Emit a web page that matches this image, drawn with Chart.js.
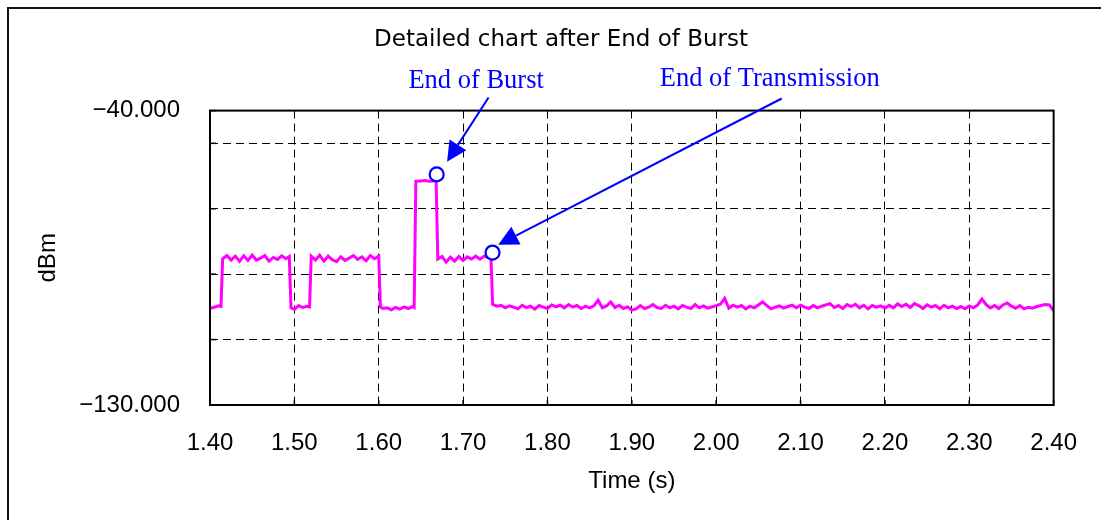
<!DOCTYPE html>
<html>
<head>
<meta charset="utf-8">
<title>Detailed chart after End of Burst</title>
<script src="https://cdn.jsdelivr.net/npm/chart.js@4.4.1/dist/chart.umd.min.js"></script>
<style>
  html, body { margin: 0; padding: 0; background: #fff; overflow: hidden; }
  #wrap { position: relative; width: 1101px; height: 520px; overflow: hidden; }
  #frame { position: absolute; left: 7px; top: 7px; width: 1200px; height: 600px;
           border-left: 2px solid #111; border-top: 2px solid #111; pointer-events: none; }
</style>
</head>
<body>
<div id="wrap">
  <canvas id="chart" width="1101" height="520"></canvas>
  <div id="frame"></div>
</div>
<script>
// measured trace (time in s, level in dBm)
const timeS = [
  1.400, 1.405, 1.410, 1.413, 1.415, 1.420, 1.425, 1.430, 1.435, 1.440,
  1.445, 1.450, 1.455, 1.460, 1.465, 1.470, 1.475, 1.480, 1.485, 1.490,
  1.494, 1.496, 1.500, 1.505, 1.510, 1.515, 1.518, 1.520, 1.525, 1.530,
  1.535, 1.540, 1.545, 1.550, 1.555, 1.560, 1.565, 1.570, 1.575, 1.580,
  1.585, 1.590, 1.595, 1.600, 1.602, 1.605, 1.610, 1.615, 1.620, 1.625,
  1.630, 1.635, 1.640, 1.642, 1.644, 1.650, 1.655, 1.660, 1.665, 1.668,
  1.670, 1.675, 1.680, 1.685, 1.690, 1.695, 1.700, 1.705, 1.710, 1.715,
  1.720, 1.725, 1.730, 1.733, 1.735, 1.740, 1.745, 1.750, 1.755, 1.760,
  1.765, 1.770, 1.775, 1.780, 1.785, 1.790, 1.795, 1.800, 1.805, 1.810,
  1.815, 1.820, 1.825, 1.830, 1.835, 1.840, 1.845, 1.850, 1.855, 1.860,
  1.865, 1.870, 1.875, 1.880, 1.885, 1.890, 1.895, 1.900, 1.905, 1.910,
  1.915, 1.920, 1.925, 1.930, 1.935, 1.940, 1.945, 1.950, 1.955, 1.960,
  1.965, 1.970, 1.975, 1.980, 1.985, 1.990, 1.995, 2.000, 2.005, 2.010,
  2.015, 2.020, 2.025, 2.030, 2.035, 2.040, 2.045, 2.050, 2.055, 2.060,
  2.065, 2.070, 2.075, 2.080, 2.085, 2.090, 2.095, 2.100, 2.105, 2.110,
  2.115, 2.120, 2.125, 2.130, 2.135, 2.140, 2.145, 2.150, 2.155, 2.160,
  2.165, 2.170, 2.175, 2.180, 2.185, 2.190, 2.195, 2.200, 2.205, 2.210,
  2.215, 2.220, 2.225, 2.230, 2.235, 2.240, 2.245, 2.250, 2.255, 2.260,
  2.265, 2.270, 2.275, 2.280, 2.285, 2.290, 2.295, 2.300, 2.305, 2.310,
  2.315, 2.320, 2.325, 2.330, 2.335, 2.340, 2.345, 2.350, 2.355, 2.360,
  2.365, 2.370, 2.375, 2.380, 2.385, 2.390, 2.395, 2.400
];
const levelDbm = [
  -100.4, -100.1, -99.7, -99.9, -85.3, -84.3, -85.7, -84.5, -86.1, -84.4,
  -85.8, -84.2, -85.7, -85.1, -84.3, -86.0, -84.9, -85.5, -84.4, -85.3,
  -84.6, -100.3, -100.8, -99.6, -100.2, -99.8, -100.0, -84.5, -85.7, -84.2,
  -86.0, -84.5, -85.6, -86.2, -84.7, -85.8, -85.1, -84.3, -85.5, -84.7,
  -85.9, -84.3, -85.3, -84.5, -100.1, -100.5, -100.3, -100.9, -100.2, -100.7,
  -100.0, -100.5, -99.9, -100.2, -61.6, -61.5, -61.4, -61.6, -61.5, -61.3,
  -85.4, -84.6, -86.3, -84.8, -86.0, -84.6, -85.8, -84.7, -85.4, -84.5,
  -85.4, -84.5, -85.0, -84.7, -99.2, -99.8, -99.5, -100.3, -99.7, -100.1,
  -100.6, -99.5, -100.2, -99.8, -100.7, -99.6, -100.1, -100.5, -99.4, -100.0,
  -99.5, -100.3, -99.3, -100.1, -99.6, -100.5, -99.8, -100.3, -99.7, -98.0,
  -100.3, -99.7, -98.5, -100.2, -99.5, -100.5, -100.0, -101.0, -100.6, -99.6,
  -100.5, -100.1, -99.3, -100.2, -100.5, -99.5, -100.3, -99.8, -100.6, -99.6,
  -100.1, -100.5, -99.3, -100.3, -99.7, -100.4, -100.0, -99.6, -99.2, -97.4,
  -100.4, -99.5, -100.1, -99.6, -100.6, -99.8, -100.3, -99.4, -98.5, -99.6,
  -100.6, -100.1, -99.7, -100.4, -99.9, -99.5, -100.3, -99.5, -100.1, -100.5,
  -99.6, -100.3, -99.8, -99.4, -99.0, -100.2, -99.6, -100.5, -99.3, -99.9,
  -99.2, -100.3, -99.5, -100.6, -99.6, -100.1, -99.7, -100.4, -99.5, -100.3,
  -99.1, -99.9, -99.2, -100.2, -99.0, -99.6, -100.5, -99.4, -100.1, -99.6,
  -100.6, -99.5, -100.3, -99.8, -100.5, -99.9, -100.6, -99.7, -100.3, -99.4,
  -97.6, -99.3, -100.3, -99.6, -100.5, -99.4, -98.8, -99.8, -100.4, -99.6,
  -100.6, -100.1, -100.4, -99.9, -99.6, -99.3, -99.4, -101.2
];

// circled events
const markerTimeS = [1.6687, 1.7349];
const markerDbm = [-59.5, -83.4];

// callout labels and where their arrows point
const noteLabels = ['End of Burst', 'End of Transmission'];
const noteTimeS = [1.6352, 1.9331];
const noteDbm = [-33.2, -32.5];
const arrowFromTimeS = [1.7302, 2.0777];
const arrowFromDbm = [-36.0, -36.3];
const arrowToTimeS = [1.6810, 1.7416];
const arrowToDbm = [-55.6, -81.0];

// axes
const xTickValues = [1.4, 1.5, 1.6, 1.7, 1.8, 1.9, 2.0, 2.1, 2.2, 2.3, 2.4];
const yTickValues = [-130, -110, -90, -70, -50, -40];
const yLabelValues = [-130, -40];

const sansFont = '"Liberation Sans", Arial, sans-serif';
const blue = '#0000ff';

function drawArrow(ctx, x0, y0, x1, y1) {
    const len = Math.hypot(x1 - x0, y1 - y0);
    const ux = (x1 - x0) / len, uy = (y1 - y0) / len;
    const headLen = 20, headHalf = 10;
    const bx = x1 - ux * headLen, by = y1 - uy * headLen;
    ctx.beginPath();
    ctx.moveTo(x0, y0);
    ctx.lineTo(bx, by);
    ctx.stroke();
    ctx.beginPath();
    ctx.moveTo(x1, y1);
    ctx.lineTo(bx - uy * headHalf, by + ux * headHalf);
    ctx.lineTo(bx + uy * headHalf, by - ux * headHalf);
    ctx.closePath();
    ctx.fill();
}

const calloutPlugin = {
    id: 'callouts',
    afterLayout(chart) {
        // the original title sits left of the page centre
        if (chart.titleBlock) chart.titleBlock.left = 66;
    },
    afterDatasetsDraw(chart) {
        const {ctx, chartArea, scales: {x, y}} = chart;
        ctx.save();

        // small inward tick marks
        ctx.strokeStyle = '#000';
        ctx.lineWidth = 1.5;
        xTickValues.forEach(v => {
            const px = x.getPixelForValue(v);
            ctx.beginPath();
            ctx.moveTo(px, chartArea.bottom);
            ctx.lineTo(px, chartArea.bottom - 5);
            ctx.stroke();
        });
        yTickValues.forEach(v => {
            const py = y.getPixelForValue(v);
            ctx.beginPath();
            ctx.moveTo(chartArea.left, py);
            ctx.lineTo(chartArea.left + 6, py);
            ctx.stroke();
        });

        // plot frame
        ctx.lineWidth = 2;
        ctx.strokeRect(chartArea.left, chartArea.top,
            chartArea.right - chartArea.left, chartArea.bottom - chartArea.top);

        // arrows
        ctx.strokeStyle = blue;
        ctx.fillStyle = blue;
        ctx.lineWidth = 2;
        noteLabels.forEach((_, i) => {
            drawArrow(ctx,
                x.getPixelForValue(arrowFromTimeS[i]), y.getPixelForValue(arrowFromDbm[i]),
                x.getPixelForValue(arrowToTimeS[i]), y.getPixelForValue(arrowToDbm[i]));
        });

        // labels
        ctx.font = '26.5px "Liberation Serif", "Times New Roman", serif';
        ctx.textAlign = 'left';
        ctx.textBaseline = 'alphabetic';
        noteLabels.forEach((label, i) => {
            ctx.fillText(label, x.getPixelForValue(noteTimeS[i]), y.getPixelForValue(noteDbm[i]));
        });

        ctx.restore();
    }
};

const ctx = document.getElementById('chart');

new Chart(ctx, {
    type: 'scatter',
    data: {
        datasets: [{
            label: 'Events',
            data: markerTimeS.map((t, i) => ({x: t, y: markerDbm[i]})),
            pointStyle: 'circle',
            pointRadius: 7,
            pointBorderWidth: 2.2,
            pointBorderColor: blue,
            pointBackgroundColor: '#ffffff',
            showLine: false,
            order: 0
        }, {
            label: 'Level',
            data: timeS.map((t, i) => ({x: t, y: levelDbm[i]})),
            showLine: true,
            borderColor: '#ff00ff',
            borderWidth: 3,
            pointRadius: 0,
            tension: 0,
            order: 1
        }]
    },
    options: {
        responsive: false,
        devicePixelRatio: 1,
        animation: false,
        layout: {
            padding: {left: 0, right: 45, top: 0, bottom: 0}
        },
        plugins: {
            legend: {display: false},
            tooltip: {enabled: false},
            title: {
                display: true,
                text: 'Detailed chart after End of Burst',
                color: '#000',
                font: {family: '"DejaVu Sans", sans-serif', size: 23, weight: 'normal'},
                padding: {top: 26, bottom: 57}
            }
        },
        scales: {
            x: {
                type: 'linear',
                min: 1.4,
                max: 2.4,
                afterBuildTicks: axis => { axis.ticks = xTickValues.map(v => ({value: v})); },
                afterFit: axis => { axis.height = 115; },
                grid: {
                    color: c => (c.tick && (c.tick.value === 1.4 || c.tick.value === 2.4)) ? 'rgba(0,0,0,0)' : '#000',
                    lineWidth: 1,
                    drawTicks: false
                },
                border: {display: false, dash: [8, 5]},
                ticks: {
                    autoSkip: false,
                    maxRotation: 0,
                    padding: 24,
                    color: '#000',
                    font: {family: sansFont, size: 24},
                    callback: v => Number(v).toFixed(2)
                },
                title: {
                    display: true,
                    text: 'Time (s)',
                    color: '#000',
                    font: {family: sansFont, size: 24},
                    padding: {top: 0, bottom: 24}
                }
            },
            y: {
                type: 'linear',
                min: -130,
                max: -40,
                afterBuildTicks: axis => { axis.ticks = yTickValues.map(v => ({value: v})); },
                afterFit: axis => { axis.width = 210; },
                grid: {
                    color: c => (c.tick && yLabelValues.includes(c.tick.value)) ? 'rgba(0,0,0,0)' : '#000',
                    lineWidth: 1,
                    drawTicks: false
                },
                border: {display: false, dash: [8, 5]},
                ticks: {
                    autoSkip: false,
                    padding: 30,
                    color: '#000',
                    font: {family: sansFont, size: 24},
                    callback: v => yLabelValues.includes(v) ? '\u2212' + Math.abs(v).toFixed(3) : ''
                },
                title: {
                    display: true,
                    text: 'dBm',
                    color: '#000',
                    font: {family: sansFont, size: 24},
                    padding: {top: 34, bottom: 0}
                }
            }
        }
    },
    plugins: [calloutPlugin]
});
</script>
</body>
</html>
